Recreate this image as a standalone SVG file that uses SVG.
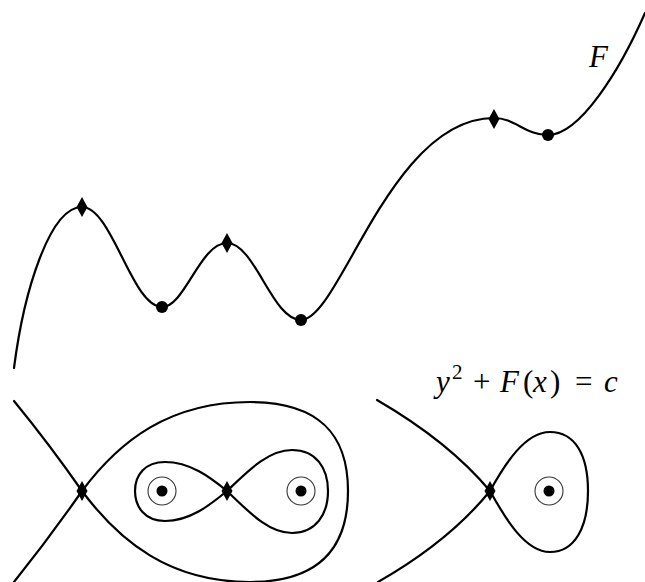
<svg xmlns="http://www.w3.org/2000/svg" xmlns:xlink="http://www.w3.org/1999/xlink" width="645" height="582" viewBox="0 0 645 582">
<style>
.curve{fill:none;stroke:#000;stroke-width:2.2;stroke-linecap:round;stroke-linejoin:round}
.ring{fill:none;stroke:#333;stroke-width:1.1}
.dot{fill:#000}
.lbl{font-family:"Liberation Serif","Times New Roman",serif;font-size:31px;fill:#000}
.it{font-style:italic}
</style>
<defs>
<path id="dia" d="M0,-10 L5.5,0 L0,10 L-5.5,0 Z" fill="#000"/>
</defs>
<rect width="645" height="582" fill="#fff"/>

<g id="graph-F">
<path class="curve" d="M14,368 C24,290 50,207 82,207 C112,207 132,307 162,307 C185,307 200,243 227,243 C255,243 272,320 301,320 C340,320 390,118 494,118 C515,118 525,135 548,135 C580,135 620,70 645,13"/>
<g id="crit-top">
<use xlink:href="#dia" x="82" y="207"/>
<circle class="dot" cx="162" cy="307" r="6"/>
<use xlink:href="#dia" x="227" y="243"/>
<circle class="dot" cx="301" cy="320" r="6"/>
<use xlink:href="#dia" x="494" y="119"/>
<circle class="dot" cx="548" cy="135" r="6"/>
</g>
<text id="label-F" class="lbl it" x="589" y="67">F</text>
</g>

<g id="phase-left">
<path class="curve" d="M14,401 Q50,445 82,491"/>
<path class="curve" d="M14,582 Q50,537 82,491"/>
<path class="curve" d="M82,491 C120,440 170,402 250,402 C320,402 348,435 348,491 C348,547 320,582 250,582 C170,582 120,542 82,491"/>
<path class="curve" d="M227,491 C210,477 190,462 165,462 C145,462 135,475 135,491 C135,507 145,521 165,521 C190,521 210,505 227,491 Z"/>
<path class="curve" d="M227,491 C248,471 268,450 292,450 C316,450 328,468 328,491 C328,514 316,533 292,533 C268,533 248,511 227,491 Z"/>
<use xlink:href="#dia" x="82" y="491"/>
<use xlink:href="#dia" x="227" y="491"/>
<circle class="ring" cx="162" cy="491" r="14"/>
<circle class="dot" cx="162" cy="491" r="5.5"/>
<circle class="ring" cx="301" cy="491" r="14"/>
<circle class="dot" cx="301" cy="491" r="5.5"/>
</g>

<g id="phase-right">
<path class="curve" d="M377,400 C420,425 460,455 490,491"/>
<path class="curve" d="M378,582 C420,558 460,528 490,491"/>
<path class="curve" d="M490,491 C505,464 525,432 550,432 C575,432 588,455 588,491 C588,527 575,552 550,552 C525,552 505,518 490,491 Z"/>
<use xlink:href="#dia" x="490" y="491"/>
<circle class="ring" cx="549" cy="491" r="14"/>
<circle class="dot" cx="549" cy="491" r="5.5"/>
</g>

<text id="label-eq" class="lbl" y="392"><tspan class="it" x="436">y</tspan><tspan x="452" y="379" font-size="21">2</tspan><tspan x="473" y="392">+</tspan><tspan class="it" x="500">F</tspan><tspan x="523">(</tspan><tspan class="it" x="533">x</tspan><tspan x="550">)</tspan><tspan x="575">=</tspan><tspan class="it" x="604">c</tspan></text>
</svg>
